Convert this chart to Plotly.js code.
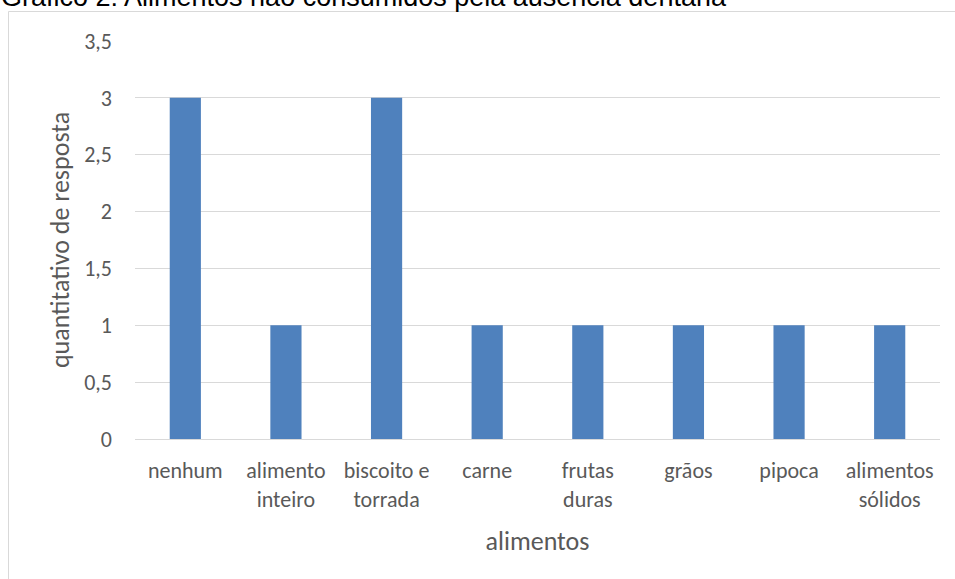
<!DOCTYPE html>
<html><head><meta charset="utf-8">
<script src="https://cdn.plot.ly/plotly-3.0.1.min.js"></script>
<style>body{margin:0;padding:0;background:#fff}#chart{width:955px;height:579px}</style>
</head><body><div id="chart"></div>
<script>
const categories = ["nenhum", "alimento<br>inteiro", "biscoito e<br>torrada", "carne", "frutas<br>duras", "grãos", "pipoca", "alimentos<br>sólidos"];
const values = [3, 1, 3, 1, 1, 1, 1, 1];
const yTickVals = [0, 0.5, 1, 1.5, 2, 2.5, 3, 3.5];
const yTickText = ["0", "0,5", "1", "1,5", "2", "2,5", "3", "3,5"];
const titleText = "Gráfico 2: Alimentos não consumidos pela ausência dentária";

const W = 955, H = 579, L = 135, R = 15, T = 41, B = 140;
const pw = W - L - R, ph = H - T - B;
const px = x => (x - L) / pw;
const py = y => (H - B - y) / ph;
const font = "Carlito, Calibri, 'Open Sans', sans-serif";

Plotly.newPlot('chart', [{
  type: 'bar', x: categories, y: values,
  marker: {color: '#4f81bd'}, width: 0.31, hoverinfo: 'none'
}], {
  width: W, height: H,
  margin: {l: L, r: R, t: T, b: B, pad: 0},
  paper_bgcolor: '#fff', plot_bgcolor: '#fff',
  showlegend: false,
  xaxis: {
    tickfont: {family: font, size: 22, color: '#595959'},
    showgrid: false, zeroline: false, showline: false, ticks: '', ticklabelstandoff: 16,
    title: {text: 'alimentos', font: {family: font, size: 26, color: '#595959'}, standoff: 20},
    automargin: false
  },
  yaxis: {
    range: [0, 3.5], tickvals: yTickVals, ticktext: yTickText,
    tickfont: {family: font, size: 22, color: '#595959'},
    gridcolor: '#d9d9d9', gridwidth: 1, zeroline: true, zerolinecolor: '#d9d9d9', zerolinewidth: 1,
    showline: false, ticks: '', ticklabelstandoff: 22,
    title: {text: 'quantitativo de resposta', font: {family: font, size: 26, color: '#595959'}, standoff: 7},
    automargin: false
  },
  shapes: [{
    type: 'rect', xref: 'paper', yref: 'paper',
    x0: px(8.5), x1: px(960), y0: py(11.5), y1: py(600),
    line: {color: '#d9d9d9', width: 1}, fillcolor: 'rgba(0,0,0,0)', layer: 'below'
  }],
  annotations: [{
    text: titleText, xref: 'paper', yref: 'paper',
    x: px(-1), y: py(14), xanchor: 'left', yanchor: 'bottom',
    showarrow: false, font: {family: 'Liberation Sans, Arial, sans-serif', size: 27, color: '#000'}
  }]
}, {staticPlot: true});
</script></body></html>
